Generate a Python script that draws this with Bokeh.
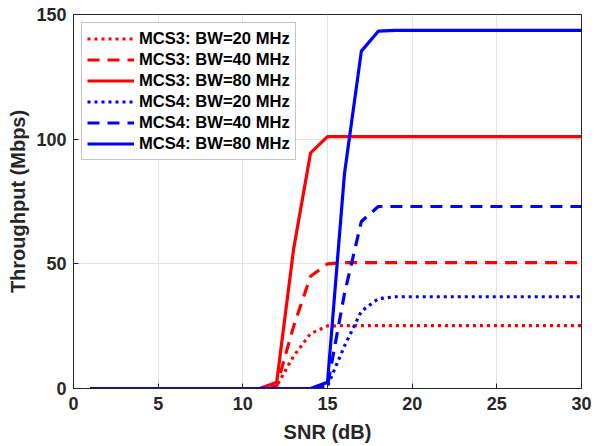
from bokeh.plotting import figure
from bokeh.models import FixedTicker, Range1d, Legend, LegendItem
from bokeh.embed import file_html
from bokeh.resources import INLINE

snr = list(range(1, 31))
zeros11 = [0] * 11
zeros14 = [0] * 14
mcs3_bw20 = zeros11 + [1, 13, 22, 25.1] + [25.2] * 15
mcs3_bw40 = zeros11 + [1, 25, 45, 50] + [50.5] * 15
mcs3_bw80 = zeros11 + [2.5, 56, 94.5, 101] + [101] * 15
mcs4_bw20 = zeros14 + [1, 17, 31, 36] + [36.8] * 12
mcs4_bw40 = zeros14 + [1, 38, 67, 73] + [73] * 12
mcs4_bw80 = zeros14 + [2.5, 86, 135.3, 143.3] + [143.6] * 12

x_ticks = [0, 5, 10, 15, 20, 25, 30]
y_ticks = [0, 50, 100, 150]

FONT = "Liberation Sans"
TXT = "#262626"

p = figure(width=593, height=445, output_backend="svg", toolbar_location=None,
           x_range=Range1d(0, 30), y_range=Range1d(0, 150),
           min_border_left=73, min_border_right=12, min_border_top=14, min_border_bottom=56)
p.background_fill_color = "white"
p.border_fill_color = "white"
p.outline_line_color = TXT
p.outline_line_width = 1

series = [
    (mcs3_bw20, "red", "3 4", "MCS3: BW=20 MHz"),
    (mcs3_bw40, "red", "12 8", "MCS3: BW=40 MHz"),
    (mcs3_bw80, "red", "solid", "MCS3: BW=80 MHz"),
    (mcs4_bw20, "blue", "3 4", "MCS4: BW=20 MHz"),
    (mcs4_bw40, "blue", "12 8", "MCS4: BW=40 MHz"),
    (mcs4_bw80, "blue", "solid", "MCS4: BW=80 MHz"),
]
items = []
for ys, col, dash, lab in series:
    r = p.line(snr, ys, line_color=col, line_width=3.2, line_dash=dash)
    items.append(LegendItem(label=lab, renderers=[r]))

for ax in (p.xaxis[0], p.yaxis[0]):
    ax.major_label_text_font = FONT
    ax.major_label_text_font_style = "bold"
    ax.major_label_text_font_size = "18px"
    ax.major_label_text_color = TXT
    ax.axis_label_text_font = FONT
    ax.axis_label_text_font_style = "bold"
    ax.axis_label_text_font_size = "20px"
    ax.axis_label_text_color = TXT
    ax.axis_line_color = TXT
    ax.major_tick_line_color = TXT
    ax.major_tick_in = 5
    ax.major_tick_out = 0
    ax.minor_tick_line_color = None

p.xaxis[0].ticker = FixedTicker(ticks=x_ticks)
p.yaxis[0].ticker = FixedTicker(ticks=y_ticks)
p.xaxis[0].axis_label = "SNR (dB)"
p.yaxis[0].axis_label = "Throughput (Mbps)"
p.xaxis[0].major_label_standoff = 8
p.xaxis[0].axis_label_standoff = 8
p.yaxis[0].major_label_standoff = 7
p.yaxis[0].axis_label_standoff = 4

p.xgrid.grid_line_color = "#e3e3e3"
p.ygrid.grid_line_color = "#e3e3e3"
p.xgrid.ticker = FixedTicker(ticks=x_ticks)
p.ygrid.ticker = FixedTicker(ticks=y_ticks)

leg = Legend(items=items, location="top_left")
leg.margin = 8
leg.padding = 5
leg.spacing = 0
leg.glyph_width = 47
leg.glyph_height = 21
leg.label_height = 21
leg.label_standoff = 5
leg.label_text_font = FONT
leg.label_text_font_style = "bold"
leg.label_text_font_size = "16.6px"
leg.label_text_color = "black"
leg.border_line_color = "#8c8c8c"
leg.border_line_width = 1
leg.background_fill_color = "white"
leg.background_fill_alpha = 1
p.add_layout(leg, "center")

open("out.html", "w").write(file_html(p, INLINE))
